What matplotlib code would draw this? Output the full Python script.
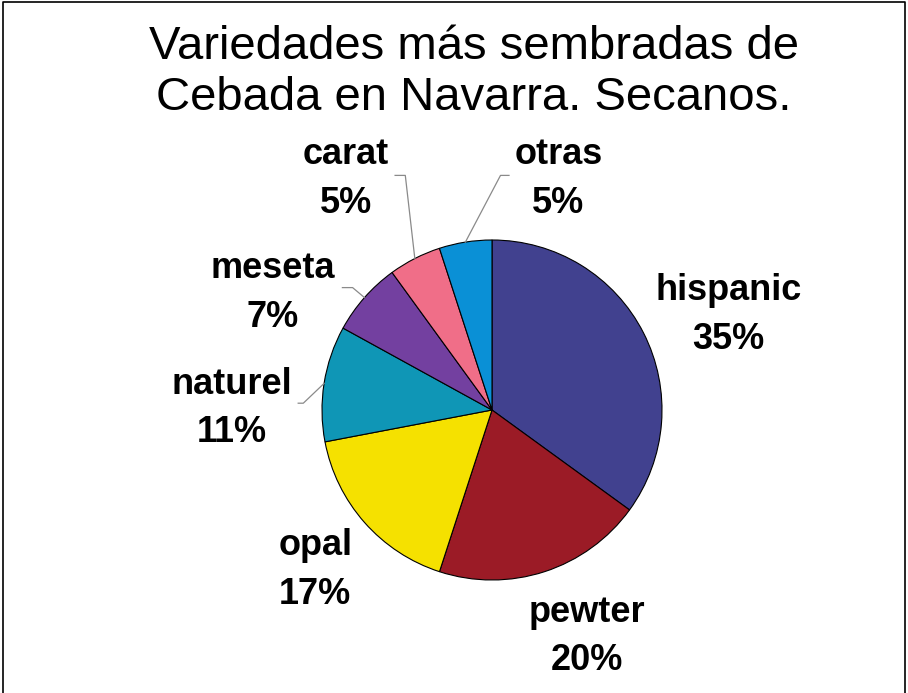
import matplotlib.pyplot as plt
from matplotlib.lines import Line2D
import numpy as np

# datos: variedades de cebada, secanos de Navarra
variedades = ["hispanic", "pewter", "opal", "naturel", "meseta", "carat", "otras"]
porcentajes = [35, 20, 17, 11, 7, 5, 5]
colores = ["#41418f", "#9b1b26", "#f5e100", "#0f96b6", "#7340a0", "#f06e88", "#0a90d6"]

# posiciones de las etiquetas (coordenadas del eje, radio de la tarta = 1)
etiqueta_x = [1.39, 0.56, -1.04, -1.53, -1.29, -0.86, 0.39]
etiqueta_y = [0.36, -1.53, -1.14, -0.19, 0.49, 1.16, 1.16]
# lineas guia: (codo, extremo) para las porciones pequeñas
guias = {
    "naturel": [(-1.11, 0.04), (-1.14, 0.04)],
    "meseta": [(-0.82, 0.72), (-0.88, 0.72)],
    "carat": [(-0.51, 1.38), (-0.57, 1.38)],
    "otras": [(0.05, 1.38), (0.10, 1.38)],
}

plt.rcParams["font.family"] = ["Liberation Sans", "DejaVu Sans"]

fig = plt.figure(figsize=(9.08, 6.93), dpi=100)
ax = fig.add_axes([322 / 908, 113 / 693, 340 / 908, 340 / 693])

wedges, _ = ax.pie(
    porcentajes,
    colors=colores,
    startangle=90,
    counterclock=False,
    radius=1,
    wedgeprops={"edgecolor": "black", "linewidth": 0.8},
)
ax.set_xlim(-1, 1)
ax.set_ylim(-1, 1)

for w, nombre, pct, lx, ly in zip(wedges, variedades, porcentajes, etiqueta_x, etiqueta_y):
    ax.text(lx, ly, f"{nombre}\n{pct}%", ha="center", va="baseline",
            multialignment="center", fontsize=26, fontweight="bold",
            linespacing=1.5, clip_on=False)
    if nombre in guias:
        ang = np.deg2rad((w.theta1 + w.theta2) / 2)
        (cx, cy), (ex, ey) = guias[nombre]
        ax.plot([np.cos(ang), cx, ex], [np.sin(ang), cy, ey],
                color="#8a8a8a", lw=0.9, clip_on=False)

fig.text(0.522, 1 - 110 / 693, "Variedades más sembradas de\nCebada en Navarra. Secanos.",
         ha="center", va="baseline", fontsize=34, linespacing=1.2)

# marco de la figura (sin borde inferior)
fig.add_artist(Line2D([0.0035, 0.0035, 0.9965, 0.9965], [0, 0.997, 0.997, 0],
                      transform=fig.transFigure, color="black", lw=1.2))

fig.savefig("out.png", dpi=100)
